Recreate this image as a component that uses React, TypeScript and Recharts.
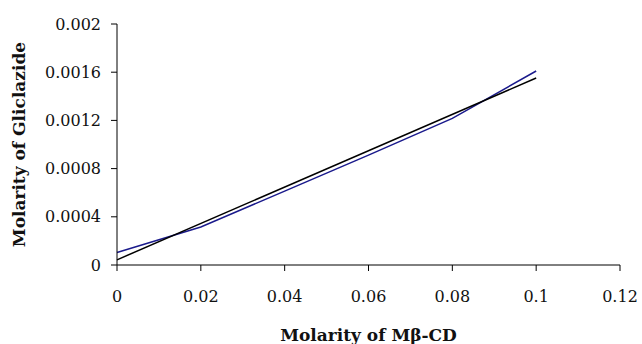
import { Label, Line, LineChart, XAxis, YAxis } from 'recharts';

const molarityMbCD = [0, 0.02, 0.04, 0.06, 0.08, 0.1];
const molarityGliclazide = [0.000104, 0.000316, 0.000613, 0.000912, 0.001217, 0.00161];

// linear trendline
const trendX = [0, 0.1];
const trendY = [0.000043, 0.001552];

const xTicks = [0, 0.02, 0.04, 0.06, 0.08, 0.1, 0.12];
const yTicks = [0, 0.0004, 0.0008, 0.0012, 0.0016, 0.002];

const measured = molarityMbCD.map((x, i) => ({ x, y: molarityGliclazide[i] }));
const trend = trendX.map((x, i) => ({ x, y: trendY[i] }));

const font = 'DejaVu Serif';
const tickStyle = { fontFamily: font, fontSize: 16, fill: '#111' };
const titleStyle = { fontFamily: font, fontSize: 17, fontWeight: 'bold', fill: '#111' };

export default function App() {
  return (
    <div style={{ position: 'fixed', left: 0, top: 0, background: '#fff' }}>
      <LineChart width={642} height={344} margin={{ top: 24, right: 22, bottom: 0, left: 0 }}>
        <XAxis
          type="number"
          dataKey="x"
          domain={[0, 0.12]}
          ticks={xTicks}
          height={79}
          stroke="#000"
          tickSize={6}
          tickMargin={20}
          tick={tickStyle}
          allowDuplicatedCategory={false}
        >
          <Label value="Molarity of Mβ-CD" position="insideBottom" offset={3} style={titleStyle} />
        </XAxis>
        <YAxis
          type="number"
          domain={[0, 0.002]}
          ticks={yTicks}
          width={117}
          stroke="#000"
          tickSize={6}
          tickMargin={10}
          tick={tickStyle}
        >
          <Label
            value="Molarity of Gliclazide"
            angle={-90}
            position="insideLeft"
            offset={19}
            style={{ ...titleStyle, textAnchor: 'middle' }}
          />
        </YAxis>
        <Line
          data={measured}
          dataKey="y"
          stroke="#1a1a8c"
          strokeWidth={1.5}
          dot={false}
          isAnimationActive={false}
        />
        <Line
          data={trend}
          dataKey="y"
          stroke="#000"
          strokeWidth={1.5}
          dot={false}
          isAnimationActive={false}
        />
      </LineChart>
    </div>
  );
}
